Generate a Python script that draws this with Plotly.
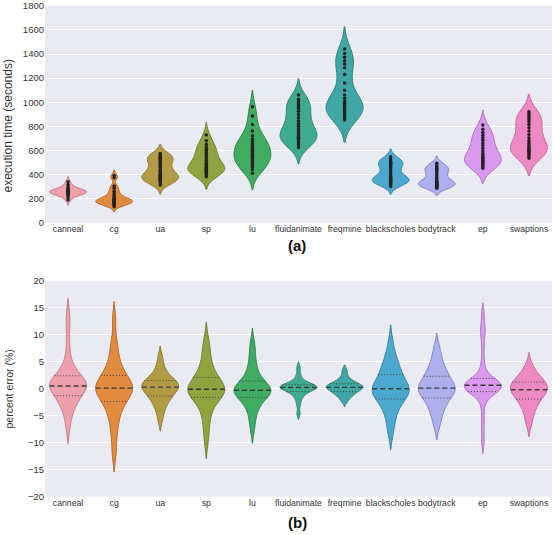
import numpy as np
import plotly.graph_objects as go

benchmarks = ["canneal", "cg", "ua", "sp", "lu", "fluidanimate", "freqmine",
              "blackscholes", "bodytrack", "ep", "swaptions"]

# ---- (a) execution time samples (seconds) ----
time_canneal = [188, 210, 225, 234, 240, 244, 247, 250, 252, 254, 256, 258, 260, 263, 266,
                270, 276, 285, 298, 318, 340]
time_cg = [133, 145, 155, 162, 167, 171, 174, 177, 180, 184, 189, 195, 203, 213, 226, 242,
           262, 285, 305, 372, 392]
time_ua = [313, 330, 342, 352, 360, 366, 372, 378, 385, 393, 402, 413, 426, 441, 458, 476,
           494, 510, 523, 534, 544, 553, 562, 574]
time_sp = [382, 398, 410, 420, 428, 435, 441, 447, 454, 462, 472, 485, 500, 518, 538, 558,
           577, 594, 610, 628, 650, 680, 728]
time_lu = [410, 440, 462, 480, 496, 512, 528, 544, 560, 576, 592, 608, 624, 640, 656, 674,
           695, 722, 760, 815, 885, 963]
time_fluidanimate = [625, 648, 665, 678, 690, 700, 710, 720, 732, 746, 762, 780, 800, 822,
                     845, 870, 898, 925, 950, 970, 988, 1005, 1025, 1060]
time_freqmine = [853, 872, 890, 905, 918, 930, 941, 952, 964, 977, 992, 1010, 1032, 1060,
                 1100, 1160, 1230, 1285, 1318, 1345, 1372, 1405, 1442]
time_blackscholes = [300, 315, 326, 335, 342, 348, 354, 360, 367, 375, 385, 398, 415, 435,
                     455, 470, 482, 492, 502, 513, 528, 548]
time_bodytrack = [285, 295, 302, 308, 313, 318, 323, 329, 336, 345, 356, 370, 388, 405, 420,
                  432, 442, 452, 462, 475, 493]
time_ep = [451, 466, 478, 488, 497, 505, 513, 522, 532, 544, 558, 575, 595, 617, 640, 662,
           684, 705, 726, 748, 775, 811]
time_swaptions = [534, 552, 566, 578, 589, 599, 609, 620, 632, 646, 663, 683, 706, 732, 760,
                  788, 814, 837, 857, 874, 890, 905, 921]

# ---- (b) percent error samples (%) ----
err_canneal = [-7.4, -5.6, -4.6, -3.8, -3.2, -2.7, -2.3, -1.9, -1.6, -1.3, -1.0, -0.7, -0.4,
               -0.2, 0.0, 0.2, 0.3, 0.4, 0.5, 0.7, 0.9, 1.1, 1.3, 1.5, 1.7, 1.9, 2.1, 2.4,
               2.7, 3.1, 3.6, 4.3, 5.3, 7.0, 9.5, 12.0, 13.9]
err_cg = [-12.2, -9.5, -7.5, -6.0, -4.9, -4.0, -3.2, -2.6, -2.1, -1.7, -1.3, -1.0, -0.7,
          -0.4, -0.1, 0.1, 0.3, 0.5, 0.8, 1.1, 1.4, 1.8, 2.2, 2.7, 3.3, 4.0, 4.9, 6.0, 7.4,
          9.2, 12.9]
err_ua = [-5.8, -4.4, -3.5, -2.8, -2.3, -1.9, -1.5, -1.2, -0.9, -0.6, -0.3, -0.1, 0.1, 0.3,
          0.4, 0.6, 0.8, 1.0, 1.2, 1.4, 1.6, 1.9, 2.3, 2.8, 3.5, 4.5, 5.9]
err_sp = [-9.7, -7.5, -5.8, -4.5, -3.5, -2.7, -2.1, -1.6, -1.3, -1.0, -0.8, -0.6, -0.4, -0.3,
          -0.1, 0.1, 0.3, 0.6, 0.9, 1.3, 1.7, 2.1, 2.6, 3.2, 4.0, 5.0, 6.2, 7.6, 9.1]
err_lu = [-7.5, -5.8, -4.6, -3.7, -3.0, -2.4, -2.0, -1.6, -1.3, -1.1, -0.9, -0.7, -0.5, -0.4,
          -0.3, -0.1, 0.1, 0.3, 0.5, 0.8, 1.1, 1.4, 1.9, 2.6, 3.4, 4.3, 5.5, 7.0, 8.6]
err_fluidanimate = [-4.6, -3.0, -2.0, -1.4, -1.0, -0.7, -0.5, -0.3, -0.1, 0.0, 0.1, 0.2,
                    0.25, 0.3, 0.4, 0.5, 0.6, 0.7, 0.8, 1.0, 1.3, 1.8, 2.6, 3.9]
err_freqmine = [-2.3, -1.7, -1.3, -1.0, -0.8, -0.6, -0.4, -0.2, -0.05, 0.1, 0.2, 0.3, 0.4,
                0.5, 0.65, 0.8, 0.95, 1.15, 1.4, 1.8, 2.4, 3.4]
err_blackscholes = [-8.3, -6.6, -5.3, -4.3, -3.5, -2.8, -2.3, -1.9, -1.5, -1.2, -0.9, -0.6,
                    -0.4, -0.2, 0.0, 0.2, 0.5, 0.8, 1.2, 1.6, 2.1, 2.6, 3.1, 3.6, 4.2, 4.9,
                    5.7, 6.8, 8.8]
err_bodytrack = [-6.9, -5.4, -4.4, -3.6, -2.9, -2.3, -1.8, -1.4, -1.0, -0.7, -0.4, -0.2, 0.0,
                 0.2, 0.5, 0.8, 1.2, 1.6, 2.0, 2.4, 2.9, 3.5, 4.2, 5.0, 6.2, 7.7]
err_ep = [-10.0, -7.6, -5.4, -3.3, -2.0, -1.4, -1.0, -0.8, -0.65, -0.5, -0.35, -0.2, -0.05,
          0.1, 0.25, 0.4, 0.5, 0.6, 0.7, 0.8, 0.9, 1.05, 1.2, 1.35, 1.5, 1.65, 1.8, 2.2, 2.8,
          3.7, 5.2, 7.6, 9.7, 10.7, 11.8, 13.9]
err_swaptions = [-6.7, -5.5, -4.6, -3.9, -3.3, -2.8, -2.4, -2.0, -1.7, -1.4, -1.1, -0.9,
                 -0.7, -0.5, -0.3, -0.1, 0.1, 0.3, 0.5, 0.7, 0.9, 1.1, 1.3, 1.5, 1.8, 2.1,
                 2.5, 3.0, 3.6, 4.5]

exec_times = [time_canneal, time_cg, time_ua, time_sp, time_lu, time_fluidanimate,
              time_freqmine, time_blackscholes, time_bodytrack, time_ep, time_swaptions]
pct_errors = [err_canneal, err_cg, err_ua, err_sp, err_lu, err_fluidanimate, err_freqmine,
              err_blackscholes, err_bodytrack, err_ep, err_swaptions]

# ---- styles ----
fill_colors = ["#EFA0AD", "#E08B3E", "#B29B44", "#8FA43F", "#40AC62", "#3FAA8C",
               "#41A6A6", "#4BA8CF", "#AEB0EE", "#DA98EE", "#EE89C4"]
line_colors = ["#C97A8A", "#BB6A2C", "#8E7D33", "#708232", "#2F8A4E", "#318870",
               "#32857F", "#3A88A8", "#8587C9", "#B273C8", "#C9679F"]
time_bw = [22, 22, 38, 52, 68, 68, 92, 32, 30, 62, 72]
err_bw = [1.4, 1.6, 1.0, 1.6, 1.3, 0.55, 0.5, 1.5, 1.3, 1.0, 1.1]
VW = 0.8
FONT = "Liberation Sans, Arial, sans-serif"
TXT = "#333333"
W, H = 553, 535


def halfwidth_fn(vals, bw, width=VW):
    vals = np.asarray(vals, float)
    lo, hi = vals.min() - 2 * bw, vals.max() + 2 * bw
    n = int(np.ceil((hi - lo) / (bw / 3)))
    grid = np.linspace(lo, hi, n + 1)

    def kde(t):
        t = np.atleast_1d(np.asarray(t, float))
        return np.exp(-0.5 * ((t[:, None] - vals[None, :]) / bw) ** 2).sum(axis=1)

    mx = kde(grid).max()
    return lambda t: (width / 2) * kde(t) / mx


fig = go.Figure()

for i, name in enumerate(benchmarks):
    fig.add_trace(go.Violin(
        x=[i] * len(exec_times[i]), y=exec_times[i], xaxis="x", yaxis="y",
        bandwidth=time_bw[i], scalemode="width", width=VW, spanmode="soft",
        fillcolor=fill_colors[i], line=dict(color=line_colors[i], width=1),
        points="all", pointpos=0, jitter=0,
        marker=dict(color="#222222", size=3.5, line=dict(width=0)),
        box=dict(visible=False), meanline=dict(visible=False),
        opacity=1, showlegend=False, name=name, hoveron="violins"))

for i, name in enumerate(benchmarks):
    fig.add_trace(go.Violin(
        x=[i] * len(pct_errors[i]), y=pct_errors[i], xaxis="x2", yaxis="y2",
        bandwidth=err_bw[i], scalemode="width", width=VW, spanmode="soft",
        fillcolor=fill_colors[i], line=dict(color=line_colors[i], width=1),
        points=False, box=dict(visible=False), meanline=dict(visible=False),
        opacity=1, showlegend=False, name=name, hoveron="violins"))

# quartile lines for panel (b), computed from the samples
mx_, my_, qx_, qy_ = [], [], [], []
for i, vals in enumerate(pct_errors):
    hw = halfwidth_fn(vals, err_bw[i])
    q1, med, q3 = np.percentile(vals, [25, 50, 75])
    h = hw(med)[0]
    mx_ += [i - h, i + h, None]
    my_ += [med, med, None]
    for q in (q1, q3):
        h = hw(q)[0]
        qx_ += [i - h, i + h, None]
        qy_ += [q, q, None]

fig.add_trace(go.Scatter(x=mx_, y=my_, xaxis="x2", yaxis="y2", mode="lines",
                         line=dict(color="#3a3a3a", width=1.4, dash="5px,3px"),
                         showlegend=False, hoverinfo="skip"))
fig.add_trace(go.Scatter(x=qx_, y=qy_, xaxis="x2", yaxis="y2", mode="lines",
                         line=dict(color="#3a3a3a", width=1, dash="1px,2px"),
                         showlegend=False, hoverinfo="skip"))

xd = [45 / W, 552 / W]
top_dom = [1 - 222.7 / H, 1 - 5.8 / H]
bot_dom = [1 - 496.7 / H, 1 - 280.7 / H]

xcommon = dict(range=[-0.5, 10.5], tickmode="array", tickvals=list(range(11)),
               ticktext=benchmarks, showgrid=False, zeroline=False, showline=False,
               ticks="", tickangle=0, ticklabeloverflow="allow",
               tickfont=dict(size=8.7, color=TXT, family=FONT),
               automargin=False, domain=xd, fixedrange=True)
ycommon = dict(showgrid=True, gridcolor="white", gridwidth=1, zeroline=False,
               showline=False, ticks="", tickfont=dict(size=9.5, color=TXT, family=FONT),
               automargin=False, fixedrange=True)

fig.update_layout(
    width=W, height=H,
    margin=dict(l=0, r=0, t=0, b=0),
    paper_bgcolor="white", plot_bgcolor="#EAEAF2",
    font=dict(family=FONT, color=TXT),
    violinmode="overlay", violingap=0,
    xaxis=dict(**xcommon, anchor="y"),
    yaxis=dict(**ycommon, domain=top_dom, range=[0, 1800], dtick=200, anchor="x"),
    xaxis2=dict(**xcommon, anchor="y2"),
    yaxis2=dict(**ycommon, domain=bot_dom, range=[-20, 20], dtick=5, anchor="x2"),
    annotations=[
        dict(text="execution time (seconds)", x=7.5 / W, y=1 - 126 / H, xref="paper",
             yref="paper", textangle=-90, showarrow=False, xanchor="center",
             yanchor="middle", font=dict(size=12, color=TXT, family=FONT)),
        dict(text="percent error (%)", x=8.5 / W, y=1 - 389 / H, xref="paper",
             yref="paper", textangle=-90, showarrow=False, xanchor="center",
             yanchor="middle", font=dict(size=10.5, color=TXT, family=FONT)),
        dict(text="<b>(a)</b>", x=297 / W, y=1 - 246 / H, xref="paper", yref="paper",
             showarrow=False, xanchor="center", yanchor="middle",
             font=dict(size=15, color="#111111", family=FONT)),
        dict(text="<b>(b)</b>", x=297 / W, y=1 - 522 / H, xref="paper", yref="paper",
             showarrow=False, xanchor="center", yanchor="middle",
             font=dict(size=15, color="#111111", family=FONT)),
    ],
)

fig.write_html(
    "out.html",
    config={"displayModeBar": False, "staticPlot": True},
    post_script="document.body.style.margin='0';document.body.style.overflow='hidden';",
)
